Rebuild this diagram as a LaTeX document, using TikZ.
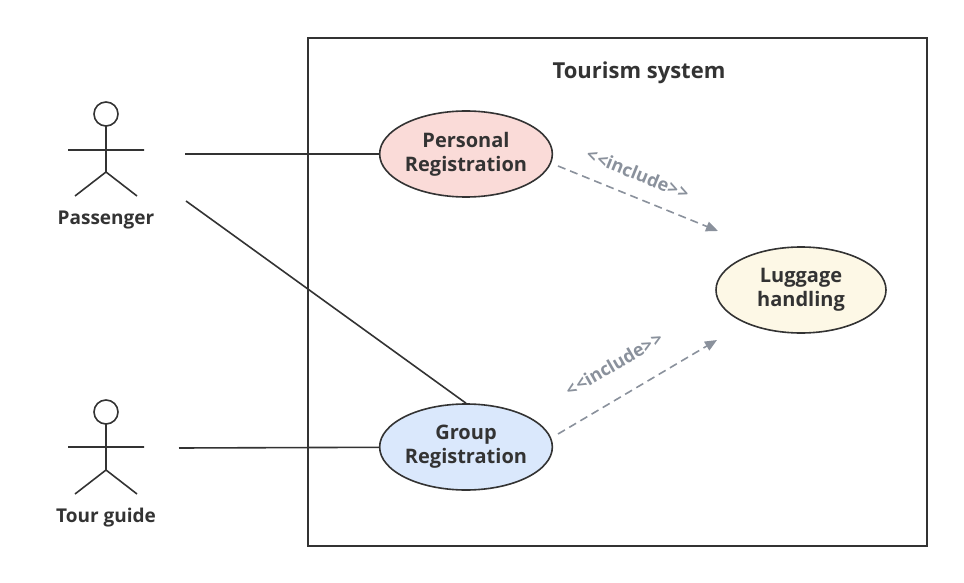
\documentclass[tikz,border=0pt]{standalone}
\usepackage{fontspec}
\setmainfont{Open Sans}
\usetikzlibrary{positioning,shapes.geometric,arrows.meta}
\definecolor{lineC}{HTML}{333333}
\definecolor{incC}{HTML}{8A919C}
\newcommand{\inctext}{{<}\kern1pt{<}include{>}\kern1pt{>}}
\tikzset{
  usecase/.style={ellipse,draw=lineC,line width=1.6pt,minimum width=168pt,minimum height=86pt,inner sep=0pt,align=center,font=\fontsize{20}{24}\selectfont\bfseries,text=lineC},
  actor/.style={draw=lineC,line width=1.6pt},
  assoc/.style={draw=lineC,line width=1.6pt},
  include/.style={draw=incC,line width=1.6pt,dash pattern=on 8pt off 5pt,-{Triangle[length=12pt,width=10pt]}},
  inclabel/.style={text=incC,font=\fontsize{18}{20}\selectfont\bfseries},
  lbl/.style={text=lineC,font=\fontsize{19}{22}\selectfont\bfseries}
}
\begin{document}
\begin{tikzpicture}[x=1pt,y=-1pt]
\useasboundingbox (0,0) rectangle (964,583);
% system boundary
\draw[lineC,line width=1.6pt] (308,38) rectangle (927,546);
\node[lbl,font=\fontsize{22}{26}\selectfont\bfseries] (title) at (639,73) {Tourism system};
% use cases
\node[usecase,fill={rgb,255:red,250;green,219;blue,216}] (personal) at (466,154) {Personal\\Registration};
\node[usecase,fill={rgb,255:red,218;green,232;blue,252}] (group) at (466,447) {Group\\Registration};
\node[usecase,fill={rgb,255:red,253;green,248;blue,230},minimum width=170pt] (luggage) at (801,290) {Luggage\\handling};
% actors
\draw[actor] (106,114) circle (12);
\draw[actor] (106,126) -- (106,172) (68,150) -- (144,150) (75,196) -- (106,172) -- (137,196);
\node[lbl] (passenger) at (106,220) {Passenger};
\draw[actor] (106,412) circle (12);
\draw[actor] (106,424) -- (106,470) (68,447) -- (144,447) (75,494) -- (106,470) -- (137,494);
\node[lbl] (guide) at (106,518) {Tour guide};
% associations
\coordinate (p1) at (185,154);
\coordinate (p2) at (186,201);
\coordinate (g1) at (179,448);
\draw[assoc] (p1) -- (personal);
\draw[assoc] (p2) -- (group.north);
\draw[assoc] (g1) -- (group);
% includes
\coordinate (i1) at (558,166);
\coordinate (i2) at (718,231);
\coordinate (i3) at (558,434);
\coordinate (i4) at (717,340);
\draw[include] (i1) -- (i2);
\draw[include] (i3) -- (i4);
\node[inclabel,rotate=-22] (inc1) at (638,174) {\inctext};
\node[inclabel,rotate=30] (inc2) at (614,364) {\inctext};
\end{tikzpicture}
\end{document}
